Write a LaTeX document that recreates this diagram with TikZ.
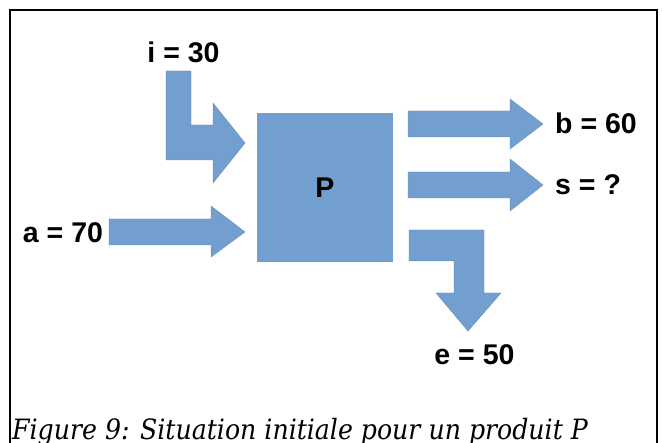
\documentclass[tikz,border=0pt]{standalone}
\usepackage{fontspec}
\setmainfont{Liberation Sans}
\newfontfamily\captionfont{DejaVu Serif Condensed}
\definecolor{flowblue}{HTML}{729FCF}
\begin{document}
\begin{tikzpicture}[x=1pt,y=-1pt,
  flow/.style={fill=flowblue,draw=flowblue!90!black,line width=0.4pt},
  lbl/.style={font=\fontsize{28.5}{32}\selectfont\bfseries,inner sep=0pt},
  frame/.style={line width=2.5pt,black}]
\useasboundingbox (0,0) rectangle (662,443);
\fill[white] (0,0) rectangle (662,443);
% open frame around the figure
\draw[frame] (10,470) -- (10,10) -- (657,10) -- (657,470);
% product box
\node[flow,draw=none,minimum width=136pt,minimum height=149pt,inner sep=0pt,
  font=\fontsize{28.5}{32}\selectfont\bfseries] (P) at (325,187.5) {P};
% incoming flows
\filldraw[flow] (166,71) -- (191,71) -- (191,125) -- (213,125) -- (213,103)
  -- (245,143) -- (213,183) -- (213,160) -- (166,160) -- cycle;
\filldraw[flow] (109,219) -- (211,219) -- (211,206) -- (245,232)
  -- (211,257) -- (211,245) -- (109,245) -- cycle;
% outgoing flows
\filldraw[flow] (408,111) -- (510,111) -- (510,99) -- (543,124)
  -- (510,149) -- (510,137) -- (408,137) -- cycle;
\filldraw[flow] (408,172) -- (510,172) -- (510,159) -- (543,185)
  -- (510,211) -- (510,198) -- (408,198) -- cycle;
\filldraw[flow] (409,230) -- (484,230) -- (484,293) -- (501,293)
  -- (468,331) -- (436,293) -- (454,293) -- (454,261) -- (409,261) -- cycle;
% flow labels
\node[lbl] (li) at (183.5,52) {i = 30};
\node[lbl] (la) at (63,233) {a = 70};
\node[lbl,anchor=west] (lb) at (555,123) {b = 60};
\node[lbl,anchor=west] (ls) at (555,185) {s = ?};
\node[lbl] (le) at (474.5,355) {e = 50};
% caption
\node[anchor=base west,inner sep=0pt,font=\captionfont\itshape\fontsize{28}{32}\selectfont]
  (cap) at (12,440) {Figure 9: Situation initiale pour un produit P};
\end{tikzpicture}
\end{document}
